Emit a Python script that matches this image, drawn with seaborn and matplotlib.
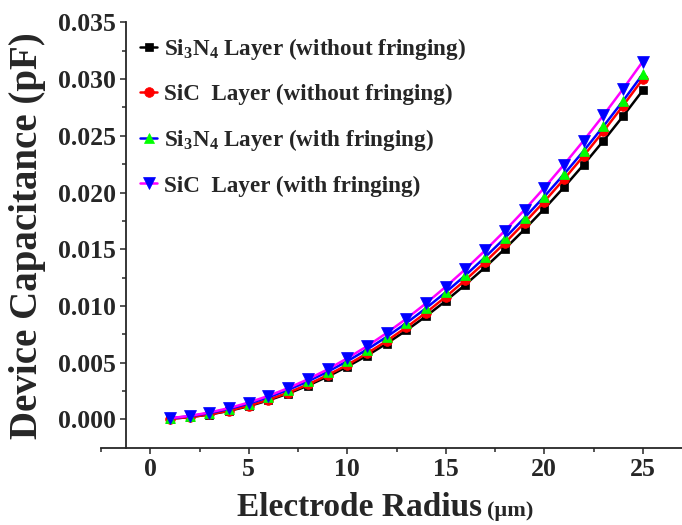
import matplotlib
matplotlib.use("Agg")
import matplotlib.pyplot as plt
from matplotlib.ticker import MultipleLocator, FixedLocator, FormatStrFormatter
import seaborn as sns
import pandas as pd

# Electrode radius (µm)
radius = list(range(1, 26))

# Device capacitance (pF)
si3n4_no_fringe = [0.00005, 0.00019, 0.00042, 0.00074, 0.00116, 0.00167, 0.00227, 0.00297,
                   0.00376, 0.00464, 0.00561, 0.00668, 0.00784, 0.00909, 0.01044, 0.01188,
                   0.01341, 0.01503, 0.01675, 0.01856, 0.02046, 0.02246, 0.02455, 0.02673, 0.02900]
sic_no_fringe = [0.00005, 0.00019, 0.00043, 0.00077, 0.00120, 0.00173, 0.00235, 0.00307,
                 0.00389, 0.00480, 0.00581, 0.00691, 0.00811, 0.00941, 0.01080, 0.01229,
                 0.01387, 0.01555, 0.01733, 0.01920, 0.02117, 0.02323, 0.02539, 0.02765, 0.03000]
si3n4_fringe = [0.00009, 0.00027, 0.00055, 0.00092, 0.00139, 0.00194, 0.00260, 0.00334,
                0.00419, 0.00512, 0.00615, 0.00727, 0.00849, 0.00980, 0.01121, 0.01270,
                0.01430, 0.01598, 0.01777, 0.01964, 0.02161, 0.02367, 0.02583, 0.02808, 0.03043]
sic_fringe = [0.00010, 0.00030, 0.00060, 0.00099, 0.00148, 0.00207, 0.00275, 0.00353,
              0.00440, 0.00538, 0.00644, 0.00761, 0.00887, 0.01023, 0.01169, 0.01324,
              0.01489, 0.01663, 0.01847, 0.02041, 0.02245, 0.02458, 0.02680, 0.02913, 0.03155]

labels = [
    r"Si$_\mathbf{3}$N$_\mathbf{4}$ Layer (without fringing)",
    "SiC  Layer (without fringing)",
    r"Si$_\mathbf{3}$N$_\mathbf{4}$ Layer (with fringing)",
    "SiC  Layer (with fringing)",
]

sns.set_style("ticks")
plt.rcParams["font.family"] = ["Liberation Serif", "DejaVu Serif"]
plt.rcParams["font.weight"] = "bold"
plt.rcParams["mathtext.fontset"] = "custom"
plt.rcParams["mathtext.rm"] = "Liberation Serif:bold"
plt.rcParams["mathtext.bf"] = "Liberation Serif:bold"
plt.rcParams["mathtext.it"] = "Liberation Serif:bold"

fig = plt.figure(figsize=(6.82, 5.25), dpi=100)
W, H = 682, 525
ax = fig.add_axes([101 / W, 1 - 448 / H, 591 / W, (448 - 22.4) / H])

series = [
    (si3n4_no_fringe, "#000000", "s", "#000000", 6.0),
    (sic_no_fringe, "#FF0000", "o", "#FF0000", 7.0),
    (si3n4_fringe, "#0000FF", "^", "#00FF00", 7.5),
    (sic_fringe, "#FF00FF", "v", "#0000FF", 9.0),
]

for (vals, lcol, mk, mcol, ms), lab in zip(series, labels):
    df = pd.DataFrame({"r": radius, "c": vals})
    sns.lineplot(data=df, x="r", y="c", ax=ax, color=lcol, linewidth=1.8,
                 marker=mk, markersize=ms, markerfacecolor=mcol,
                 markeredgecolor=mcol, markeredgewidth=0.5, label=lab)

ax.set_xlim(-2.5, 27.5)
ax.set_ylim(-0.00253, 0.035)

ax.spines["top"].set_visible(False)
ax.spines["right"].set_visible(False)
ax.spines["left"].set_position(("data", -1.22))
for s in ("left", "bottom"):
    ax.spines[s].set_linewidth(1.3)

ax.xaxis.set_major_locator(MultipleLocator(5))
ax.xaxis.set_minor_locator(MultipleLocator(2.5))
ax.yaxis.set_major_locator(FixedLocator([i * 0.005 for i in range(8)]))
ax.yaxis.set_minor_locator(FixedLocator([0.0025 + i * 0.005 for i in range(7)]))
ax.yaxis.set_major_formatter(FormatStrFormatter("%.3f"))

ax.tick_params(which="major", direction="out", length=4.5, width=1.1, labelsize=18.5, pad=3)
ax.tick_params(which="minor", direction="out", length=2.8, width=1.1)
for t in ax.get_xticklabels() + ax.get_yticklabels():
    t.set_fontweight("bold")

ax.set_ylabel("Device Capacitance (pF)", fontsize=28, fontweight="bold")
ax.yaxis.set_label_coords((28 - 101) / 591, 0.5)
ax.yaxis.label.set_va("center")

ax.set_xlabel("Electrode Radius", fontsize=24, fontweight="bold")
ax.xaxis.label.set_va("baseline")
ax.xaxis.label.set_ha("left")
ax.xaxis.set_label_coords((237 - 101) / 591, (448 - 516) / (448 - 22.4))
fig.text(487 / W, 1 - 516 / H, "(µm)", fontsize=16, fontweight="bold",
         ha="left", va="baseline")

leg = ax.legend(loc="upper left", bbox_to_anchor=(140 / W, 1 - 36 / H),
                bbox_transform=fig.transFigure, frameon=False, fontsize=16.7,
                handlelength=0.75, handletextpad=0.3, labelspacing=0.95,
                borderaxespad=0, borderpad=0)
for t in leg.get_texts():
    t.set_fontweight("bold")

fig.savefig("out.png", dpi=100)
